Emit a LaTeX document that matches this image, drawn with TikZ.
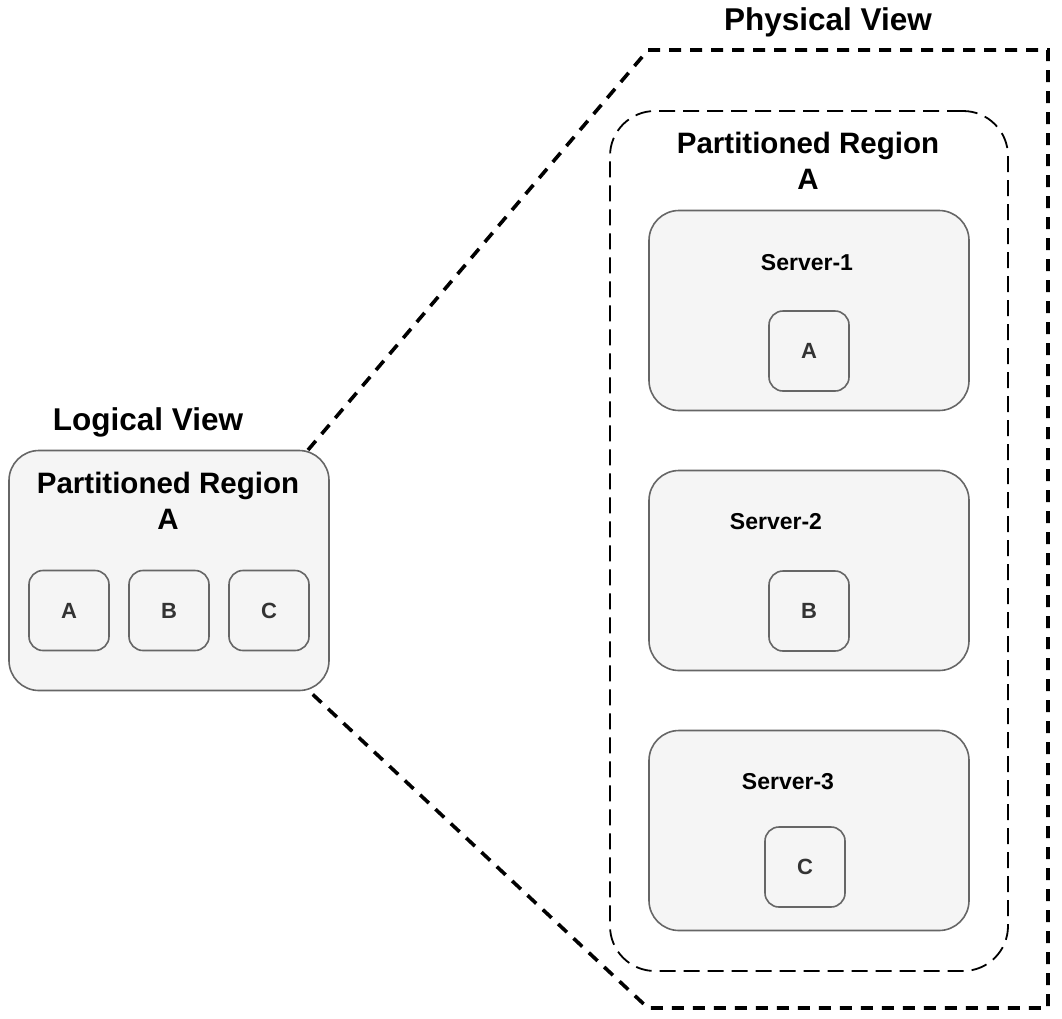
\documentclass[tikz,border=0pt]{standalone}
\usepackage{fontspec}
\setmainfont{Liberation Sans}
\begin{document}
\begin{tikzpicture}[x=1pt,y=-1pt,
  box/.style={draw=black!60,fill=black!4,line width=1.6pt,rounded corners=30pt,inner sep=0pt},
  bigbox/.style={box,minimum width=320pt,minimum height=200pt},
  smallbox/.style={box,rounded corners=14pt,minimum width=80pt,minimum height=80pt,
     font=\fontsize{22}{26}\selectfont\bfseries,text=black!80},
  title/.style={font=\fontsize{31.5}{37}\selectfont\bfseries,align=center,inner sep=0pt},
  regtitle/.style={font=\fontsize{29.5}{36.5}\selectfont\bfseries,align=center,inner sep=0pt},
  srvlabel/.style={font=\fontsize{23}{27}\selectfont\bfseries,inner sep=0pt},
  outer/.style={draw=black,line width=3.6pt,dash pattern=on 12pt off 9pt},
  inner/.style={draw=black,line width=1.8pt,dash pattern=on 16pt off 8pt,rounded corners=45pt}]
\useasboundingbox (0,0) rectangle (1062,1018);
% outer physical frame
\coordinate (o1) at (308,450);
\coordinate (o2) at (648,50);
\coordinate (o3) at (1048,50);
\coordinate (o4) at (1048,1008);
\coordinate (o5) at (648,1008);
\coordinate (o6) at (308,690);
\draw[outer] (o1) -- (o2) -- (o3) -- (o4) -- (o5) -- (o6);
\node[title] (pv) at (828,22) {Physical View};
% inner dashed region
\node[inner,minimum width=398pt,minimum height=860pt] (pr) at (809,541) {};
\node[regtitle] (prt) at (808,161) {Partitioned Region\\A};
% servers
\node[bigbox] (s1) at (809,310.5) {};
\node[bigbox] (s2) at (809,570.5) {};
\node[bigbox] (s3) at (809,830.5) {};
\node[srvlabel] (s1l) at (807,263) {Server-1};
\node[srvlabel] (s2l) at (776,522) {Server-2};
\node[srvlabel] (s3l) at (788,782) {Server-3};
\node[smallbox] (pa) at (809,351) {A};
\node[smallbox] (pb) at (809,611) {B};
\node[smallbox] (pc) at (805,867) {C};
% logical view
\node[title] (lv) at (148,422) {Logical View};
\node[box,minimum width=320pt,minimum height=240pt] (lb) at (169,570.5) {};
\node[regtitle] (lbt) at (168,501) {Partitioned Region\\A};
\node[smallbox] (la) at (69,610.5) {A};
\node[smallbox] (lb2) at (169,610.5) {B};
\node[smallbox] (lc) at (269,610.5) {C};
\end{tikzpicture}
\end{document}
